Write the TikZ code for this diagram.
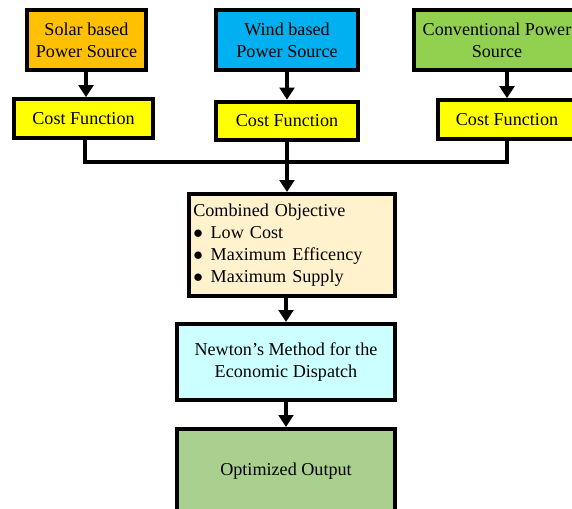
\documentclass[tikz,border=0pt]{standalone}
\usepackage{fontspec}
\setmainfont{Liberation Serif}
\usetikzlibrary{arrows.meta}

\definecolor{solarclr}{RGB}{255,192,0}
\definecolor{windclr}{RGB}{0,176,240}
\definecolor{convclr}{RGB}{146,208,80}
\definecolor{costclr}{RGB}{255,255,0}
\definecolor{combclr}{RGB}{255,242,204}
\definecolor{newtclr}{RGB}{204,255,255}
\definecolor{optclr}{RGB}{169,208,142}
\newcommand{\combitem}{\makebox[13pt][l]{$\bullet$}}

\begin{document}
\begin{tikzpicture}[x=0.75pt,y=-0.75pt,
  box/.style={draw,line width=3pt,inner sep=2pt,align=center,
    font=\fontsize{13.6}{16.5}\selectfont},
  srcbox/.style={box,minimum height=45pt},
  costbox/.style={box,fill=costclr,minimum height=29pt},
  conn/.style={line width=2.6pt},
  arr/.style={conn,-{Triangle[width=11pt,length=9pt]}}]
\useasboundingbox (0,0) rectangle (572,508);

% sources
\node[srcbox,fill=solarclr,minimum width=89.25pt] (solar) at (86.5,40) {Solar based\\Power Source};
\node[srcbox,fill=windclr,minimum width=106.5pt] (wind) at (287,40) {Wind based\\Power Source};
\node[srcbox,fill=convclr,minimum width=124.5pt] (conv) at (497,40) {Conventional Power\\Source};

% cost functions
\node[costbox,minimum width=104.25pt] (cost1) at (83.5,118.5) {Cost Function};
\node[costbox,minimum width=106.5pt] (cost2) at (287,121) {Cost Function};
\node[costbox,minimum width=103.5pt] (cost3) at (507,119.5) {Cost Function};

\node[box,fill=combclr,minimum width=154.5pt,minimum height=76.5pt,
  text width=148pt,align=left,inner xsep=3pt] (comb) at (292,245)
  {Combined Objective\\
   \combitem Low Cost\\
   \combitem Maximum Efficency\\
   \combitem Maximum Supply};
\node[box,fill=newtclr,minimum width=163.5pt,minimum height=57pt] (newton) at (286,362)
  {Newton’s Method for the\\Economic Dispatch};
\node[box,fill=optclr,minimum width=163.5pt,minimum height=63pt] (optim) at (286,471)
  {Optimized Output};

\coordinate (bus) at (287,162);

\draw[arr] (86,70) coordinate (s1) (solar.south -| s1) -- (s1 |- cost1.north);
\draw[arr] (wind.south) -- (cost2.north);
\draw[arr] (507,70) coordinate (s3) (conv.south -| s3) -- (s3 |- cost3.north);

\draw[conn] (85,140) coordinate (c1) (cost1.south -| c1) |- (bus) -| (cost3.south);
\draw[arr] (cost2.south) -- (cost2.south |- comb.north);
\draw[arr] (comb.south -| newton.north) -- (newton.north);
\draw[arr] (newton.south) -- (optim.north);
\end{tikzpicture}
\end{document}
